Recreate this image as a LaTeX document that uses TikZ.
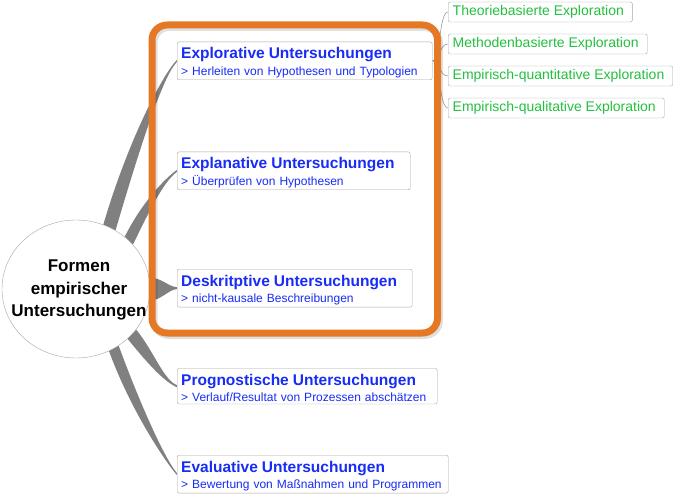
\documentclass[tikz,border=0pt]{standalone}
\usepackage{fontspec}
\setmainfont{Liberation Sans}
\usetikzlibrary{shapes.geometric,calc,backgrounds}

\definecolor{topicblue}{RGB}{24,44,246}
\definecolor{leafgreen}{RGB}{36,192,64}
\definecolor{framegray}{RGB}{165,165,165}
\definecolor{branchgray}{RGB}{128,128,128}
\definecolor{focusorange}{RGB}{228,120,36}

\tikzset{
  topic/.style={draw=framegray, fill=white, rounded corners=2pt, anchor=north west,
    align=left, text=topicblue, font=\fontsize{12}{16.4}\selectfont,
    inner xsep=4pt, inner ysep=2pt, text width=#1},
  leaf/.style={draw=framegray, fill=white, rounded corners=2pt, anchor=west,
    text=leafgreen, font=\fontsize{14}{16}\selectfont, inner xsep=4.5pt,
    minimum height=20pt},
  branchfill/.style={fill=branchgray},
  twig/.style={draw=branchgray!80, line width=0.6pt},
  focus/.style={draw=focusorange, line width=7pt, rounded corners=15pt}
}

\newcommand{\topictext}[2]{{\fontsize{15.5}{16.4}\selectfont\bfseries\rule{0pt}{15pt}#1}\\\mbox{#2}}
% tapered branch: root angle a, root angle b, target, out control, in control
\newcommand{\branch}[5]{\fill[branchfill] (root.#1) .. controls +#4 and +#5 .. ($(#3.west)+(0,-1)$) -- ($(#3.west)+(0,1)$) .. controls +#5 and +#4 .. (root.#2) -- cycle;}

\begin{document}
\begin{tikzpicture}[x=1pt,y=-1pt]
\useasboundingbox (0,0) rectangle (673,495);

% centre
\node[ellipse, draw=framegray, fill=white, minimum width=148pt, minimum height=138pt, inner sep=0pt] (root) at (76,289) {};
\node[font=\fontsize{17}{22.5}\selectfont\bfseries, align=center] (rootlabel) at ($(root.center)+(3,1)$) {Formen\\empirischer\\Untersuchungen};

% main topics
\node[topic=247pt] (explo) at (177,41.7) {\topictext{Explorative Untersuchungen}{> Herleiten von Hypothesen und Typologien}};
\node[topic=225pt] (explan) at (177,151.7) {\topictext{Explanative Untersuchungen}{> Überprüfen von Hypothesen}};
\node[topic=227pt] (desk) at (177,269) {\topictext{Deskritptive Untersuchungen}{> nicht-kausale Beschreibungen}};
\node[topic=252pt] (prog) at (177,368.3) {\topictext{Prognostische Untersuchungen}{> Verlauf/Resultat von Prozessen abschätzen}};
\node[topic=263pt] (eval) at (177,455) {\topictext{Evaluative Untersuchungen}{> Bewertung von Maßnahmen und Programmen}};

% sub topics
\foreach \name/\txt [count=\i] in {theo/Theoriebasierte Exploration, meth/Methodenbasierte Exploration, quant/Empirisch-quantitative Exploration, qual/Empirisch-qualitative Exploration}
  \node[leaf] (\name) at (448,{32*\i-20}) {\txt\hspace*{4pt}};
\coordinate (fork) at (explo.east);

\begin{pgfonlayer}{background}
  \branch{67}{56}{explo}{(25,-85)}{(-14,14)}
  \branch{47}{38}{explan}{(16,-32)}{(-14,10)}
  \branch{9}{-9}{desk}{(12,0)}{(-8,0)}
  \branch{-34}{-44}{prog}{(18,22)}{(-14,-6)}
  \branch{-53}{-62}{eval}{(22,60)}{(-12,-14)}
  \foreach \name in {theo,meth,quant,qual}
    \draw[twig] (fork) .. controls +(8,0) and +(-9,0) .. (\name.west);
\end{pgfonlayer}

% focus frame
\draw[focus, draw=black, opacity=0.12] (154,27.5) rectangle (439.5,335.5);
\draw[focus] (152,25) rectangle (437.5,333);
\end{tikzpicture}
\end{document}
